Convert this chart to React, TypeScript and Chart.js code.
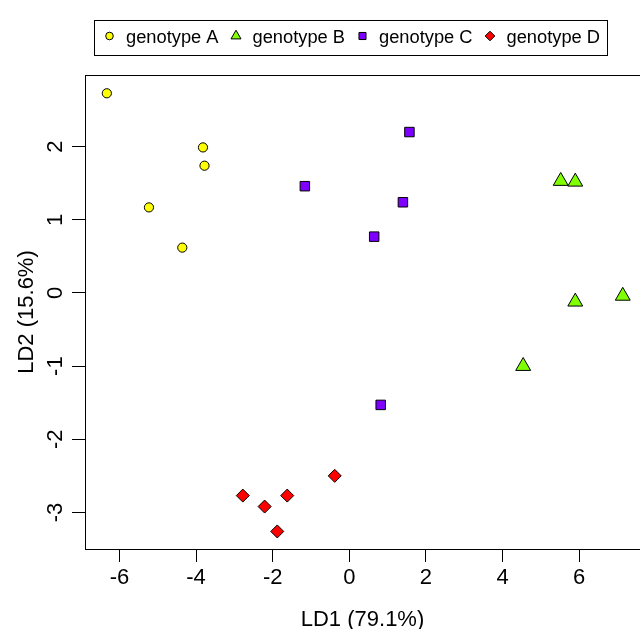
import React, { useEffect, useRef } from 'react';
import { Chart, registerables } from 'chart.js';
import { drawPoint } from 'chart.js/helpers';

Chart.register(...registerables);

// ---- data ----
const seriesNames = ['genotype A', 'genotype B', 'genotype C', 'genotype D'];
const genotypeAX = [-6.33, -3.82, -3.78, -5.23, -4.36];
const genotypeAY = [2.73, 1.99, 1.74, 1.17, 0.62];
const genotypeBX = [5.52, 5.9, 5.9, 7.14, 4.54];
const genotypeBY = [1.53, 1.52, -0.12, -0.04, -1.0];
const genotypeCX = [1.57, -1.16, 1.4, 0.65, 0.82];
const genotypeCY = [2.2, 1.46, 1.24, 0.77, -1.53];
const genotypeDX = [-2.78, -2.21, -1.62, -1.88, -0.38];
const genotypeDY = [-2.77, -2.92, -2.77, -3.26, -2.5];
const xTicks = [-6, -4, -2, 0, 2, 4, 6];
const yTicks = [-3, -2, -1, 0, 1, 2];
const xTitle = 'LD1 (79.1%)';
const yTitle = 'LD2 (15.6%)';
const X_MIN = -6.9;
const X_MAX = 7.59;
const Y_MIN = -3.5;
const Y_MAX = 2.98;

// ---- styles ----
const FONT = "'Liberation Sans', Arial, Helvetica, sans-serif";
const colors = ['#FFFF00', '#80FF00', '#8000FF', '#FF0000'];
const pointStyles = ['circle', 'triangle', 'rect', 'rectRot'];
const pointRadii = [4.6, 8.6, 6.7, 6.5];
const legendRadii = [3.8, 5.8, 5.0, 4.8];

const groupXs = [genotypeAX, genotypeBX, genotypeCX, genotypeDX];
const groupYs = [genotypeAY, genotypeBY, genotypeCY, genotypeDY];

const framePlugin = {
  id: 'rFrame',
  beforeDatasetsDraw(chart: any) {
    const { ctx, chartArea } = chart;
    ctx.save();
    ctx.strokeStyle = '#000';
    ctx.lineWidth = 1;
    ctx.beginPath();
    const t = Math.round(chartArea.top) + 0.5;
    ctx.moveTo(Math.round(chartArea.left), t);
    ctx.lineTo(chart.width + 2, t);
    ctx.stroke();
    ctx.restore();
  },
};

const legendPlugin = {
  id: 'rLegend',
  afterDraw(chart: any) {
    const { ctx } = chart;
    ctx.save();
    const fontSize = 18.3;
    ctx.font = `${fontSize}px ${FONT}`;
    ctx.textBaseline = 'middle';
    ctx.textAlign = 'left';
    const boxLeft = 94.5;
    const boxTop = 20.5;
    const boxBottom = 55.5;
    const textY = 38;
    const symY = 36;
    let sx = 109.5;
    const items: any[] = [];
    let lastEnd = sx;
    chart.data.datasets.forEach((ds: any, i: number) => {
      const tx = sx + 16.5;
      const w = ctx.measureText(ds.label).width;
      items.push({ sx, tx, label: ds.label, i });
      lastEnd = tx + w;
      sx = tx + w + 17.5;
    });
    const boxRight = Math.round(lastEnd + 7.5) + 0.5;
    ctx.strokeStyle = '#000';
    ctx.lineWidth = 1;
    ctx.strokeRect(boxLeft, boxTop, boxRight - boxLeft, boxBottom - boxTop);
    items.forEach((it) => {
      ctx.fillStyle = colors[it.i];
      ctx.strokeStyle = '#000';
      ctx.lineWidth = 1;
      drawPoint(ctx, { pointStyle: pointStyles[it.i] as any, radius: legendRadii[it.i], rotation: 0, borderWidth: 1 }, it.sx, symY);
      ctx.fillStyle = '#000';
      ctx.fillText(it.label, it.tx, textY);
    });
    ctx.restore();
  },
};

export default function App() {
  const ref = useRef<HTMLCanvasElement | null>(null);
  useEffect(() => {
    if (!ref.current) return;
    const datasets = seriesNames.map((name, i) => ({
      label: name,
      data: groupXs[i].map((x, j) => ({ x, y: groupYs[i][j] })),
      pointStyle: pointStyles[i] as any,
      pointRadius: pointRadii[i],
      backgroundColor: colors[i],
      borderColor: '#000',
      borderWidth: 1,
      showLine: false,
      clip: false as any,
    }));
    const tickFont = { family: FONT, size: 22 };
    const chart = new Chart(ref.current, {
      type: 'scatter',
      data: { datasets },
      options: {
        animation: false,
        responsive: false,
        devicePixelRatio: 1,
        events: [],
        layout: { padding: { top: 75, left: 0, right: 0, bottom: 0 }, autoPadding: false },
        plugins: { legend: { display: false }, tooltip: { enabled: false }, title: { display: false } },
        scales: {
          x: {
            type: 'linear',
            position: 'bottom',
            min: X_MIN,
            max: X_MAX,
            bounds: 'data',
            afterFit: (s: any) => { s.height = 80; },
            afterBuildTicks: (s: any) => { s.ticks = xTicks.map((v) => ({ value: v })); },
            grid: { display: true, drawOnChartArea: false, drawTicks: true, tickLength: 13, color: '#000', lineWidth: 1 },
            border: { display: true, color: '#000', width: 1 },
            ticks: { color: '#000', font: tickFont, padding: 3, maxRotation: 0, minRotation: 0, autoSkip: false, callback: (v: any) => String(v) },
            title: { display: true, text: xTitle, color: '#000', font: tickFont, padding: { top: 0, bottom: -4 } },
          },
          y: {
            type: 'linear',
            position: 'left',
            min: Y_MIN,
            max: Y_MAX,
            bounds: 'data',
            afterFit: (s: any) => { s.width = 85; },
            afterBuildTicks: (s: any) => { s.ticks = yTicks.map((v) => ({ value: v })); },
            grid: { display: true, drawOnChartArea: false, drawTicks: true, tickLength: 13, color: '#000', lineWidth: 1 },
            border: { display: true, color: '#000', width: 1 },
            ticks: { color: '#000', font: tickFont, padding: 6, minRotation: 90, maxRotation: 90, crossAlign: 'center', autoSkip: false, callback: (v: any) => String(v) },
            title: { display: true, text: yTitle, color: '#000', font: tickFont, padding: { top: 14, bottom: 0 } },
          },
        },
      } as any,
      plugins: [framePlugin, legendPlugin],
    });
    return () => chart.destroy();
  }, []);
  return (
    <div style={{ position: 'absolute', left: 0, top: 0, width: 640, height: 629 }}>
      <canvas ref={ref} width={640} height={629} style={{ display: 'block', width: 640, height: 629 }} />
    </div>
  );
}
